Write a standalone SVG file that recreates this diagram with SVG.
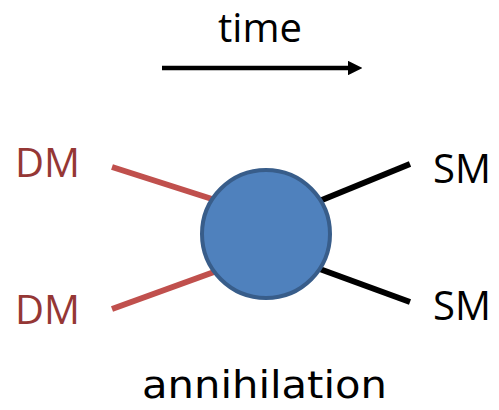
<svg xmlns="http://www.w3.org/2000/svg" width="499" height="410" viewBox="0 0 499 410">
<defs>
<style>
.lbl{font-family:"Open Sans","Noto Sans",sans-serif;font-size:40px}
.dm{fill:#953735}
.sm{fill:#000}
.red{stroke:#c0504d;stroke-width:6;fill:none}
.blk{stroke:#000;stroke-width:6;fill:none}
</style>
<marker id="ah" viewBox="0 0 10 10" refX="0" refY="5" markerWidth="3.2" markerHeight="3.2" orient="auto" markerUnits="strokeWidth">
<path d="M0,0 L10,5 L0,10 Z" fill="#000"/>
</marker>
</defs>
<rect width="499" height="410" fill="#fff"/>
<g id="time-axis">
<text class="lbl" x="260" y="42" text-anchor="middle">time</text>
<line x1="162" y1="68" x2="348" y2="68" stroke="#000" stroke-width="4.5" marker-end="url(#ah)"/>
</g>
<g id="connectors">
<line class="red" x1="112" y1="167" x2="212" y2="199"/>
<line class="red" x1="112" y1="309" x2="214" y2="272"/>
<line class="blk" x1="317" y1="202" x2="410" y2="164"/>
<line class="blk" x1="317" y1="268" x2="410" y2="302"/>
</g>
<g id="vertex">
<circle cx="266" cy="234" r="64" fill="#4f81bd" stroke="#385d8a" stroke-width="4"/>
</g>
<g id="dm-top"><text class="lbl dm" x="15" y="177">DM</text></g>
<g id="dm-bottom"><text class="lbl dm" x="15" y="324">DM</text></g>
<g id="sm-top"><text class="lbl sm" x="433" y="183">SM</text></g>
<g id="sm-bottom"><text class="lbl sm" x="433" y="320">SM</text></g>
<g id="caption">
<text x="142" y="398" font-family="'Comic Sans MS','DejaVu Sans',sans-serif" font-size="37" textLength="245" lengthAdjust="spacingAndGlyphs">annihilation</text>
</g>
</svg>
